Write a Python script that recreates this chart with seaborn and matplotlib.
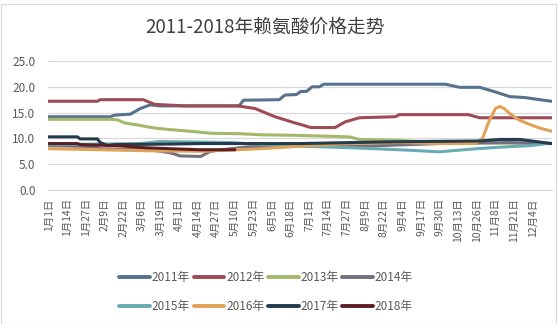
import datetime as dt
import numpy as np
import pandas as pd
import matplotlib
matplotlib.use("Agg")
import matplotlib.pyplot as plt
from matplotlib.patches import Rectangle
from matplotlib.lines import Line2D
import seaborn as sns

# ---- data: lysine price (yuan/kg) by day-of-year index, one series per year ----
years = ["2011年", "2012年", "2013年", "2014年", "2015年", "2016年", "2017年", "2018年"]

days_2011 = [0, 43, 46, 57, 64, 71, 78, 133, 136, 161, 165, 173, 176, 180, 184, 189, 192,
             277, 287, 301, 312, 322, 333, 343, 351]
price_2011 = [14.2, 14.2, 14.5, 14.7, 15.8, 16.5, 16.3, 16.3, 17.4, 17.5, 18.4, 18.5, 19.1,
              19.1, 20.0, 20.0, 20.5, 20.5, 19.9, 19.9, 19.0, 18.1, 17.9, 17.5, 17.2]

days_2012 = [0, 34, 36, 66, 74, 95, 132, 144, 151, 158, 165, 172, 176, 183, 200, 207, 217,
             242, 245, 293, 301, 351]
price_2012 = [17.2, 17.2, 17.5, 17.5, 16.6, 16.3, 16.3, 15.8, 15.0, 14.2, 13.6, 13.0, 12.7,
              12.1, 12.1, 13.2, 14.0, 14.2, 14.6, 14.6, 14.0, 14.0]

days_2013 = [0, 44, 48, 53, 64, 74, 85, 102, 113, 134, 148, 172, 210, 217, 245, 273, 351]
price_2013 = [13.7, 13.7, 13.6, 13.0, 12.5, 12.0, 11.7, 11.3, 11.0, 10.9, 10.7, 10.6, 10.3,
              9.8, 9.6, 9.2, 9.0]

days_2014 = [0, 32, 36, 71, 85, 92, 106, 113, 127, 141, 176, 231, 273, 322, 351]
price_2014 = [8.6, 8.4, 8.0, 7.8, 7.2, 6.6, 6.5, 7.5, 8.0, 8.4, 8.5, 8.6, 9.0, 9.2, 9.0]

days_2015 = [0, 64, 78, 127, 148, 176, 210, 245, 273, 294, 315, 336, 351]
price_2015 = [8.8, 9.0, 9.4, 9.2, 8.8, 8.5, 8.2, 7.8, 7.4, 7.9, 8.3, 8.6, 9.1]

days_2016 = [0, 71, 106, 148, 176, 210, 245, 273, 298, 303, 307, 312, 315, 318, 323, 329,
             336, 343, 351]
price_2016 = [8.0, 7.6, 7.5, 8.0, 8.5, 9.0, 9.2, 9.0, 9.0, 10.0, 13.0, 15.8, 16.2, 15.8,
              14.6, 13.5, 12.7, 12.0, 11.4]

days_2017 = [0, 20, 22, 34, 36, 41, 46, 85, 106, 176, 231, 259, 301, 315, 329, 340, 351]
price_2017 = [10.3, 10.3, 9.9, 9.9, 9.2, 8.6, 8.8, 8.9, 9.0, 9.0, 9.3, 9.4, 9.5, 9.8, 9.8,
              9.4, 9.0]

days_2018 = [0, 20, 22, 48, 67, 85, 106, 130]
price_2018 = [9.0, 9.0, 8.8, 8.6, 8.2, 8.0, 7.8, 7.8]

series_days = [days_2011, days_2012, days_2013, days_2014,
               days_2015, days_2016, days_2017, days_2018]
series_price = [price_2011, price_2012, price_2013, price_2014,
                price_2015, price_2016, price_2017, price_2018]

colors = ["#56728f", "#9f4b57", "#a4b86a", "#75707f",
          "#6aaab3", "#e0a257", "#243b4c", "#5b1f23"]

n_days = 352          # categories on the x axis (1月1日 ... 12月18日, 366-day calendar)
label_step = 13       # one date label every 13 days
y_ticks = [0, 5, 10, 15, 20, 25]

frames = [pd.DataFrame({"day": d, "price": p, "year": y})
          for d, p, y in zip(series_days, series_price, years)]
df = pd.concat(frames, ignore_index=True)

# ---- style ----
sns.set_style("white")
plt.rcParams["font.family"] = ["Noto Sans CJK SC", "DejaVu Sans"]
text_gray = "#595959"
grid_gray = "#d9d9d9"

fig = plt.figure(figsize=(5.58, 3.24), dpi=100)
ax = fig.add_axes([48 / 558, 1 - 190 / 324, 504 / 558, 129 / 324])

sns.lineplot(data=df, x="day", y="price", hue="year", hue_order=years,
             palette=dict(zip(years, colors)), estimator=None, sort=True,
             linewidth=2.2, legend=False, ax=ax)

ax.set_xlim(-0.5, n_days - 0.5)
ax.set_ylim(0, 25)
ax.set_yticks(y_ticks)
ax.set_yticklabels([f"{v:.1f}" for v in y_ticks], fontsize=8.5, color=text_gray)
ax.yaxis.grid(True, color=grid_gray, linewidth=0.9)
ax.set_axisbelow(True)
ax.tick_params(axis="y", length=0, pad=9)

# date labels follow a leap-year calendar (2月22日 -> 3月6日)
base = dt.date(2012, 1, 1)
label_pos = list(range(0, n_days - label_step + 1, label_step))
labels = []
for i in label_pos:
    d = base + dt.timedelta(days=i)
    labels.append(f"{d.month}月{d.day}日")
ax.set_xticks(label_pos)
ax.set_xticklabels(labels, rotation=90, fontsize=7.5, color=text_gray, va="top")
ax.tick_params(axis="x", which="major", length=0, pad=6)
ax.set_xticks(np.arange(-0.5, n_days, 1.0), minor=True)
ax.tick_params(axis="x", which="minor", length=3, width=0.5, color="#bfbfbf")
ax.set_xlabel("")
ax.set_ylabel("")

for side in ["left", "right", "top"]:
    ax.spines[side].set_visible(False)
ax.spines["bottom"].set_color(grid_gray)
ax.spines["bottom"].set_linewidth(0.9)

fig.text(265 / 558, 1 - 27 / 324, "2011-2018年赖氨酸价格走势",
         ha="center", va="center", fontsize=13.5, color="#404040")

# legend filled row by row: 2011-2014 on top, 2015-2018 below
order = [0, 4, 1, 5, 2, 6, 3, 7]
handles = [Line2D([0], [0], color=colors[k], lw=2.8) for k in order]
fig.legend(handles, [years[k] for k in order], loc="center", ncol=4,
           bbox_to_anchor=(266 / 558, 1 - 292 / 324), frameon=False,
           fontsize=8.5, handlelength=2.6, handletextpad=0.15,
           columnspacing=0.3, labelspacing=1.35, labelcolor=text_gray)

fig.add_artist(Rectangle((0.5 / 558, 0.5 / 324), 555 / 558, 320 / 324,
                         transform=fig.transFigure, fill=False,
                         edgecolor=grid_gray, linewidth=0.8))

fig.savefig("out.png", dpi=100)
